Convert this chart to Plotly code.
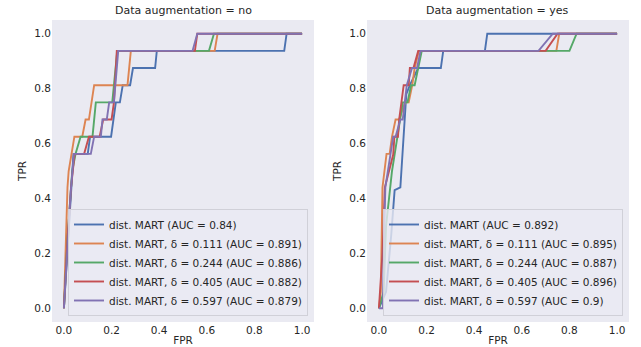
import plotly.graph_objects as go

# ---- data ----
series_names = [
    "dist. MART (AUC = {})",
    "dist. MART, δ = 0.111 (AUC = {})",
    "dist. MART, δ = 0.244 (AUC = {})",
    "dist. MART, δ = 0.405 (AUC = {})",
    "dist. MART, δ = 0.597 (AUC = {})",
]
auc_no = ["0.84", "0.891", "0.886", "0.882", "0.879"]
auc_yes = ["0.892", "0.895", "0.887", "0.896", "0.9"]
colors = ["#4C72B0", "#DD8452", "#55A868", "#C44E52", "#8172B3"]
panel_titles = ["Data augmentation = no", "Data augmentation = yes"]
tick_vals = [0.0, 0.2, 0.4, 0.6, 0.8, 1.0]
tick_text = ["0.0", "0.2", "0.4", "0.6", "0.8", "1.0"]

# augmentation = no
no_blue_fpr = [0, 0.02, 0.03, 0.04, 0.10, 0.11, 0.198, 0.218, 0.235, 0.247, 0.278, 0.29, 0.383, 0.39, 0.925, 0.935, 1.0]
no_blue_tpr = [0, 0.30, 0.44, 0.5625, 0.5625, 0.625, 0.625, 0.75, 0.75, 0.8125, 0.8125, 0.875, 0.875, 0.9375, 0.9375, 1.0, 1.0]
no_orange_fpr = [0, 0.01, 0.015, 0.02, 0.044, 0.077, 0.091, 0.105, 0.127, 0.267, 0.281, 0.633, 0.645, 1.0]
no_orange_tpr = [0, 0.3, 0.44, 0.5, 0.625, 0.625, 0.6875, 0.6875, 0.8125, 0.8125, 0.9375, 0.9375, 1.0, 1.0]
no_green_fpr = [0, 0.015, 0.03, 0.035, 0.049, 0.07, 0.12, 0.134, 0.203, 0.224, 0.609, 0.63, 1.0]
no_green_tpr = [0, 0.25, 0.44, 0.5, 0.5625, 0.625, 0.625, 0.75, 0.75, 0.9375, 0.9375, 1.0, 1.0]
no_red_fpr = [0, 0.015, 0.03, 0.045, 0.085, 0.105, 0.15, 0.165, 0.2, 0.21, 0.222, 0.55, 0.56, 1.0]
no_red_tpr = [0, 0.25, 0.44, 0.5625, 0.5625, 0.625, 0.625, 0.6875, 0.6875, 0.75, 0.9375, 0.9375, 1.0, 1.0]
no_purple_fpr = [0, 0.02, 0.03, 0.042, 0.113, 0.127, 0.155, 0.162, 0.18, 0.19, 0.21, 0.228, 0.54, 0.56, 1.0]
no_purple_tpr = [0, 0.3, 0.44, 0.5625, 0.5625, 0.625, 0.625, 0.6875, 0.6875, 0.75, 0.75, 0.9375, 0.9375, 1.0, 1.0]

# augmentation = yes
yes_blue_fpr = [0, 0.03, 0.052, 0.066, 0.09, 0.106, 0.115, 0.13, 0.165, 0.26, 0.27, 0.445, 0.455, 1.0]
yes_blue_tpr = [0, 0.06, 0.27, 0.43, 0.44, 0.686, 0.78, 0.8125, 0.875, 0.875, 0.9375, 0.9375, 1.0, 1.0]
yes_orange_fpr = [0, 0.008, 0.015, 0.032, 0.045, 0.055, 0.07, 0.085, 0.11, 0.125, 0.14, 0.15, 0.168, 0.745, 0.757, 1.0]
yes_orange_tpr = [0, 0.06, 0.44, 0.5625, 0.5625, 0.625, 0.6875, 0.6875, 0.75, 0.75, 0.8125, 0.875, 0.9375, 0.9375, 1.0, 1.0]
yes_green_fpr = [0, 0.02, 0.03, 0.055, 0.075, 0.09, 0.1, 0.12, 0.135, 0.15, 0.165, 0.18, 0.8, 0.83, 1.0]
yes_green_tpr = [0, 0.06, 0.3, 0.5, 0.61, 0.6875, 0.75, 0.75, 0.8125, 0.8125, 0.875, 0.9375, 0.9375, 1.0, 1.0]
yes_red_fpr = [0, 0.015, 0.025, 0.06, 0.065, 0.08, 0.085, 0.104, 0.125, 0.13, 0.145, 0.165, 0.7, 0.75, 1.0]
yes_red_tpr = [0, 0.2, 0.44, 0.56, 0.625, 0.625, 0.6875, 0.8125, 0.8125, 0.875, 0.875, 0.9375, 0.9375, 1.0, 1.0]
yes_purple_fpr = [0, 0.017, 0.02, 0.027, 0.06, 0.07, 0.09, 0.1, 0.117, 0.139, 0.16, 0.175, 0.67, 0.73, 1.0]
yes_purple_tpr = [0, 0, 0.2, 0.44, 0.625, 0.625, 0.6875, 0.6875, 0.8125, 0.875, 0.875, 0.9375, 0.9375, 1.0, 1.0]

no_curves = [(no_blue_fpr, no_blue_tpr), (no_orange_fpr, no_orange_tpr), (no_green_fpr, no_green_tpr),
             (no_red_fpr, no_red_tpr), (no_purple_fpr, no_purple_tpr)]
yes_curves = [(yes_blue_fpr, yes_blue_tpr), (yes_orange_fpr, yes_orange_tpr), (yes_green_fpr, yes_green_tpr),
              (yes_red_fpr, yes_red_tpr), (yes_purple_fpr, yes_purple_tpr)]

FONT = "DejaVu Sans"
TXT = "#262626"

fig = go.Figure()
for i, (fx, ty) in enumerate(no_curves):
    fig.add_trace(go.Scatter(x=fx, y=ty, mode="lines", line=dict(color=colors[i], width=1.9),
                             name=series_names[i].format(auc_no[i]), xaxis="x", yaxis="y", legend="legend"))
for i, (fx, ty) in enumerate(yes_curves):
    fig.add_trace(go.Scatter(x=fx, y=ty, mode="lines", line=dict(color=colors[i], width=1.9),
                             name=series_names[i].format(auc_yes[i]), xaxis="x2", yaxis="y2", legend="legend2"))

W, H = 641, 347
ml, mr, mt, mb = 52, 12, 20, 25
pw = W - ml - mr
ph = H - mt - mb
d1 = [0, (314 - ml) / pw]
d2 = [(367 - ml) / pw, 1]

axis_common = dict(range=[-0.05, 1.05], tickvals=tick_vals, ticktext=tick_text, showgrid=False,
                   zeroline=False, showline=False, ticks="", automargin=False,
                   tickfont=dict(family=FONT, size=10.5, color=TXT))

legend_common = dict(bgcolor="rgba(234,234,242,0.8)", bordercolor="#D0D0D8", borderwidth=1,
                     font=dict(family=FONT, size=10.5, color=TXT), xanchor="left", yanchor="bottom",
                     itemwidth=30, tracegroupgap=0)

fig.update_layout(
    width=W, height=H,
    margin=dict(l=ml, r=mr, t=mt, b=mb, autoexpand=False),
    paper_bgcolor="white", plot_bgcolor="#EAEAF2",
    font=dict(family=FONT, size=10.5, color=TXT),
    xaxis=dict(domain=d1, anchor="y", title=dict(text="FPR", font=dict(size=10.5), standoff=2), **axis_common),
    yaxis=dict(domain=[0, 1], anchor="x", title=dict(text="TPR", font=dict(size=10.5), standoff=5), **axis_common),
    xaxis2=dict(domain=d2, anchor="y2", title=dict(text="FPR", font=dict(size=10.5), standoff=2), **axis_common),
    yaxis2=dict(domain=[0, 1], anchor="x2", title=dict(text="TPR", font=dict(size=10.5), standoff=5), **axis_common),
    legend=dict(x=d1[0] + 16 / pw, y=(322 - 316) / ph, **legend_common),
    legend2=dict(x=d2[0] + 16 / pw, y=(322 - 316) / ph, **legend_common),
    annotations=[
        dict(text=panel_titles[0], x=(d1[0] + d1[1]) / 2, y=1, xref="paper", yref="paper",
             xanchor="center", yanchor="bottom", showarrow=False, yshift=1,
             font=dict(family=FONT, size=11, color=TXT)),
        dict(text=panel_titles[1], x=(d2[0] + d2[1]) / 2, y=1, xref="paper", yref="paper",
             xanchor="center", yanchor="bottom", showarrow=False, yshift=1,
             font=dict(family=FONT, size=11, color=TXT)),
    ],
)

fig.write_html("out.html", config={"displayModeBar": False},
               post_script="document.body.style.margin='0';document.body.style.padding='0';")
